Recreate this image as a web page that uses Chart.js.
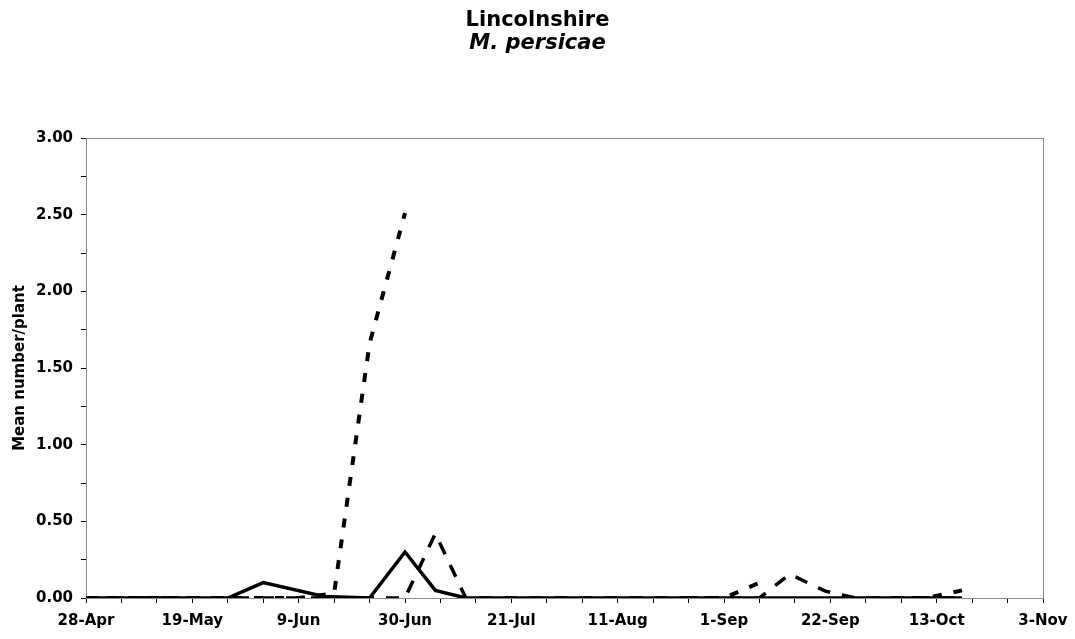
<!DOCTYPE html>
<html>
<head>
<meta charset="utf-8">
<script src="https://cdn.jsdelivr.net/npm/chart.js@4.4.1/dist/chart.umd.min.js"></script>
<style>
  html, body { margin: 0; padding: 0; background: #fff; }
  #wrap { width: 1075px; height: 639px; position: relative; }
</style>
</head>
<body>
<div id="wrap"><canvas id="c"></canvas></div>
<script>
// Days since 28-Apr for the x axis; tick labels every 21 days
const xTickLabels = ['28-Apr','19-May','9-Jun','30-Jun','21-Jul','11-Aug','1-Sep','22-Sep','13-Oct','3-Nov'];

// Solid series
const solidDays   = [0,7,14,21,28,35,47,56,63,69,75,82,89,96,103,110,117,124,131,138,145,152,159,166,173];
const solidValues = [0,0,0,0,0,0.10,0.01,0,0.30,0.05,0,0,0,0,0,0,0,0,0,0,0,0,0,0,0];

// Short-dashed series
const shortDays   = [0,7,14,21,28,35,42,49,56,63,70,119,126,133,140,159,166,173];
const shortValues = [0,0,0,0,0,0,0,0.03,1.66,2.51,null,0,0,0.10,null,0,0,0.05];

// Long-dashed series
const longDays    = [0,7,14,21,28,35,42,49,56,63,69,75,82,89,96,103,110,117,126,133,139,146,152,159,166,173];
const longValues  = [0,0,0,0,0,0,0,0,0,0,0.42,0,0,0,0,0,0,0,0,0,0.155,0.045,0,0,0,0];

const toPts = (days, vals) => days.map((d, i) => ({ x: d, y: vals[i] }));

const FONT = "'DejaVu Sans', 'Liberation Sans', Arial, sans-serif";

const frame = {
  id: 'frame',
  beforeDatasetsDraw(chart) {
    const { ctx, chartArea: a } = chart;
    ctx.save();
    ctx.strokeStyle = '#8c8c8c';
    ctx.lineWidth = 1;
    ctx.strokeRect(a.left + 0.5, a.top + 0.5, a.right - a.left, a.bottom - a.top);
    ctx.restore();
  }
};

new Chart(document.getElementById('c'), {
  type: 'line',
  data: {
    datasets: [
      {
        label: 'Series B',
        data: toPts(longDays, longValues),
        borderColor: '#000', borderWidth: 3.5, borderDash: [13, 12],
        pointRadius: 0, tension: 0, spanGaps: false, fill: false
      },
      {
        label: 'Series C',
        data: toPts(shortDays, shortValues),
        borderColor: '#000', borderWidth: 4, borderDash: [9, 12],
        pointRadius: 0, tension: 0, spanGaps: false, fill: false
      },
      {
        label: 'Series A',
        data: toPts(solidDays, solidValues),
        borderColor: '#000', borderWidth: 3.5,
        pointRadius: 0, tension: 0, spanGaps: false, fill: false
      }
    ]
  },
  options: {
    responsive: true,
    maintainAspectRatio: false,
    animation: false,
    layout: { padding: { left: 0, right: 0, top: 0, bottom: 0 } },
    plugins: {
      legend: { display: false },
      tooltip: { enabled: false },
      title: {
        display: true, text: 'Lincolnshire', color: '#000',
        font: { family: FONT, size: 21, weight: 'bold', lineHeight: 1.1 },
        padding: { top: 9, bottom: 0 }
      },
      subtitle: {
        display: true, text: 'M. persicae', color: '#000',
        font: { family: FONT, size: 21, weight: 'bold', style: 'italic', lineHeight: 1.1 },
        padding: { top: 0, bottom: 82.8 }
      }
    },
    scales: {
      x: {
        type: 'linear', min: 0, max: 189,
        afterFit(s) { s.height = 41; s.paddingRight = 32; },
        border: { color: '#000', width: 1 },
        grid: { drawOnChartArea: false, drawTicks: true, tickLength: 5, color: '#000' },
        ticks: {
          stepSize: 7, autoSkip: false, maxRotation: 0, padding: 9, color: '#000',
          font: { family: FONT, size: 15, weight: 'bold' },
          callback: v => (v % 21 === 0) ? xTickLabels[v / 21] : ''
        }
      },
      y: {
        min: 0, max: 3,
        afterFit(s) { s.width = 86; },
        border: { color: '#000', width: 1 },
        grid: { drawOnChartArea: false, drawTicks: true, tickLength: 5, color: '#000' },
        ticks: {
          stepSize: 0.25, autoSkip: false, padding: 8, color: '#000',
          font: { family: FONT, size: 15, weight: 'bold' },
          callback: v => (Math.round(v * 100) % 50 === 0) ? v.toFixed(2) : ''
        },
        title: {
          display: true, text: 'Mean number/plant', color: '#000',
          font: { family: FONT, size: 15, weight: 'bold', lineHeight: 1.2 },
          padding: { top: 11, bottom: 0 }
        }
      }
    }
  },
  plugins: [frame]
});
</script>
</body>
</html>
